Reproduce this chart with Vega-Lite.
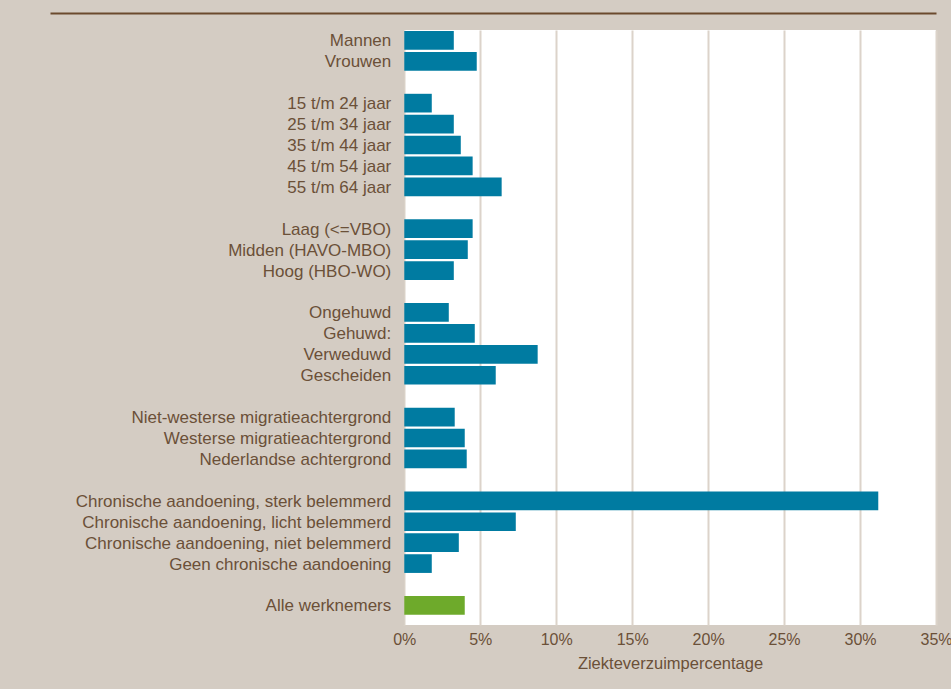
{
  "$schema": "https://vega.github.io/schema/vega-lite/v6.json",
  "width": 886,
  "height": 595,
  "autosize": {"type": "none"},
  "padding": {"left": 50, "top": 30, "right": 15, "bottom": 64},
  "background": "#d4ccc3",
  "config": {"view": {"fill": "white", "stroke": null}, "font": "Liberation Sans"},
  "resolve": {"axis": {"x": "independent"}},
  "layer": [
    {
      "data": {"values": [{"panel": "labels"}]},
      "mark": {"type": "rect", "fill": "#d4ccc3"},
      "encoding": {
        "x": {
          "datum": -23.32,
          "type": "quantitative",
          "axis": {"orient": "top", "domain": true, "domainColor": "#6b4a2e", "domainWidth": 2, "offset": 17, "labels": false, "ticks": false, "grid": false, "title": null}
        },
        "x2": {"datum": 0}
      }
    },
    {
      "data": {"name": "rows", "values": [
        {"label": "Mannen", "value": 3.26, "grp": "sub"},
        {"label": "Vrouwen", "value": 4.77, "grp": "sub"},
        {"label": "15 t/m 24 jaar", "value": 1.81, "grp": "sub"},
        {"label": "25 t/m 34 jaar", "value": 3.26, "grp": "sub"},
        {"label": "35 t/m 44 jaar", "value": 3.72, "grp": "sub"},
        {"label": "45 t/m 54 jaar", "value": 4.5, "grp": "sub"},
        {"label": "55 t/m 64 jaar", "value": 6.41, "grp": "sub"},
        {"label": "Laag (<=VBO)", "value": 4.5, "grp": "sub"},
        {"label": "Midden (HAVO-MBO)", "value": 4.18, "grp": "sub"},
        {"label": "Hoog (HBO-WO)", "value": 3.26, "grp": "sub"},
        {"label": "Ongehuwd", "value": 2.93, "grp": "sub"},
        {"label": "Gehuwd:", "value": 4.64, "grp": "sub"},
        {"label": "Verweduwd", "value": 8.78, "grp": "sub"},
        {"label": "Gescheiden", "value": 6.02, "grp": "sub"},
        {"label": "Niet-westerse migratieachtergrond", "value": 3.32, "grp": "sub"},
        {"label": "Westerse migratieachtergrond", "value": 3.98, "grp": "sub"},
        {"label": "Nederlandse achtergrond", "value": 4.11, "grp": "sub"},
        {"label": "Chronische aandoening, sterk belemmerd", "value": 31.2, "grp": "sub"},
        {"label": "Chronische aandoening, licht belemmerd", "value": 7.34, "grp": "sub"},
        {"label": "Chronische aandoening, niet belemmerd", "value": 3.59, "grp": "sub"},
        {"label": "Geen chronische aandoening", "value": 1.81, "grp": "sub"},
        {"label": "Alle werknemers", "value": 3.98, "grp": "total"}
      ]},
      "layer": [
        {
          "mark": {"type": "bar"},
          "encoding": {
            "x": {
              "field": "value",
              "type": "quantitative",
              "scale": {"domain": [-23.32, 35], "nice": false, "zero": false},
              "axis": {
                "orient": "bottom",
                "values": [0, 5, 10, 15, 20, 25, 30, 35],
                "labelExpr": "datum.value + '%'",
                "labelFlush": false,
                "labelOverlap": false,
                "grid": true,
                "gridColor": "#dcd3ca",
                "gridWidth": 2,
                "domain": false,
                "ticks": false,
                "labelFontSize": 16,
                "labelColor": "#6b5038",
                "labelPadding": 6,
                "title": "Ziekteverzuimpercentage",
                "titleFontSize": 16.5,
                "titleFontWeight": "normal",
                "titleColor": "#6b5038",
                "titleX": 620,
                "titlePadding": 8
              }
            },
            "y": {
              "field": "label",
              "type": "nominal",
              "scale": {
                "domain": ["Mannen", "Vrouwen", "_g1", "15 t/m 24 jaar", "25 t/m 34 jaar", "35 t/m 44 jaar", "45 t/m 54 jaar", "55 t/m 64 jaar", "_g2", "Laag (<=VBO)", "Midden (HAVO-MBO)", "Hoog (HBO-WO)", "_g3", "Ongehuwd", "Gehuwd:", "Verweduwd", "Gescheiden", "_g4", "Niet-westerse migratieachtergrond", "Westerse migratieachtergrond", "Nederlandse achtergrond", "_g5", "Chronische aandoening, sterk belemmerd", "Chronische aandoening, licht belemmerd", "Chronische aandoening, niet belemmerd", "Geen chronische aandoening", "_g6", "Alle werknemers"],
                "paddingInner": 0.107,
                "paddingOuter": 0.268,
                "align": 0.09
              },
              "axis": null
            },
            "color": {
              "field": "grp",
              "type": "nominal",
              "scale": {"domain": ["sub", "total"], "range": ["#007ba1", "#6eaa2b"]},
              "legend": null
            }
          }
        },
        {
          "mark": {"type": "text", "align": "right", "baseline": "middle", "dx": -13, "dy": 1, "fontSize": 17, "color": "#6b5038"},
          "encoding": {
            "x": {"datum": 0, "type": "quantitative"},
            "y": {"field": "label", "type": "nominal", "axis": null},
            "text": {"field": "label"}
          }
        }
      ]
    }
  ]
}
